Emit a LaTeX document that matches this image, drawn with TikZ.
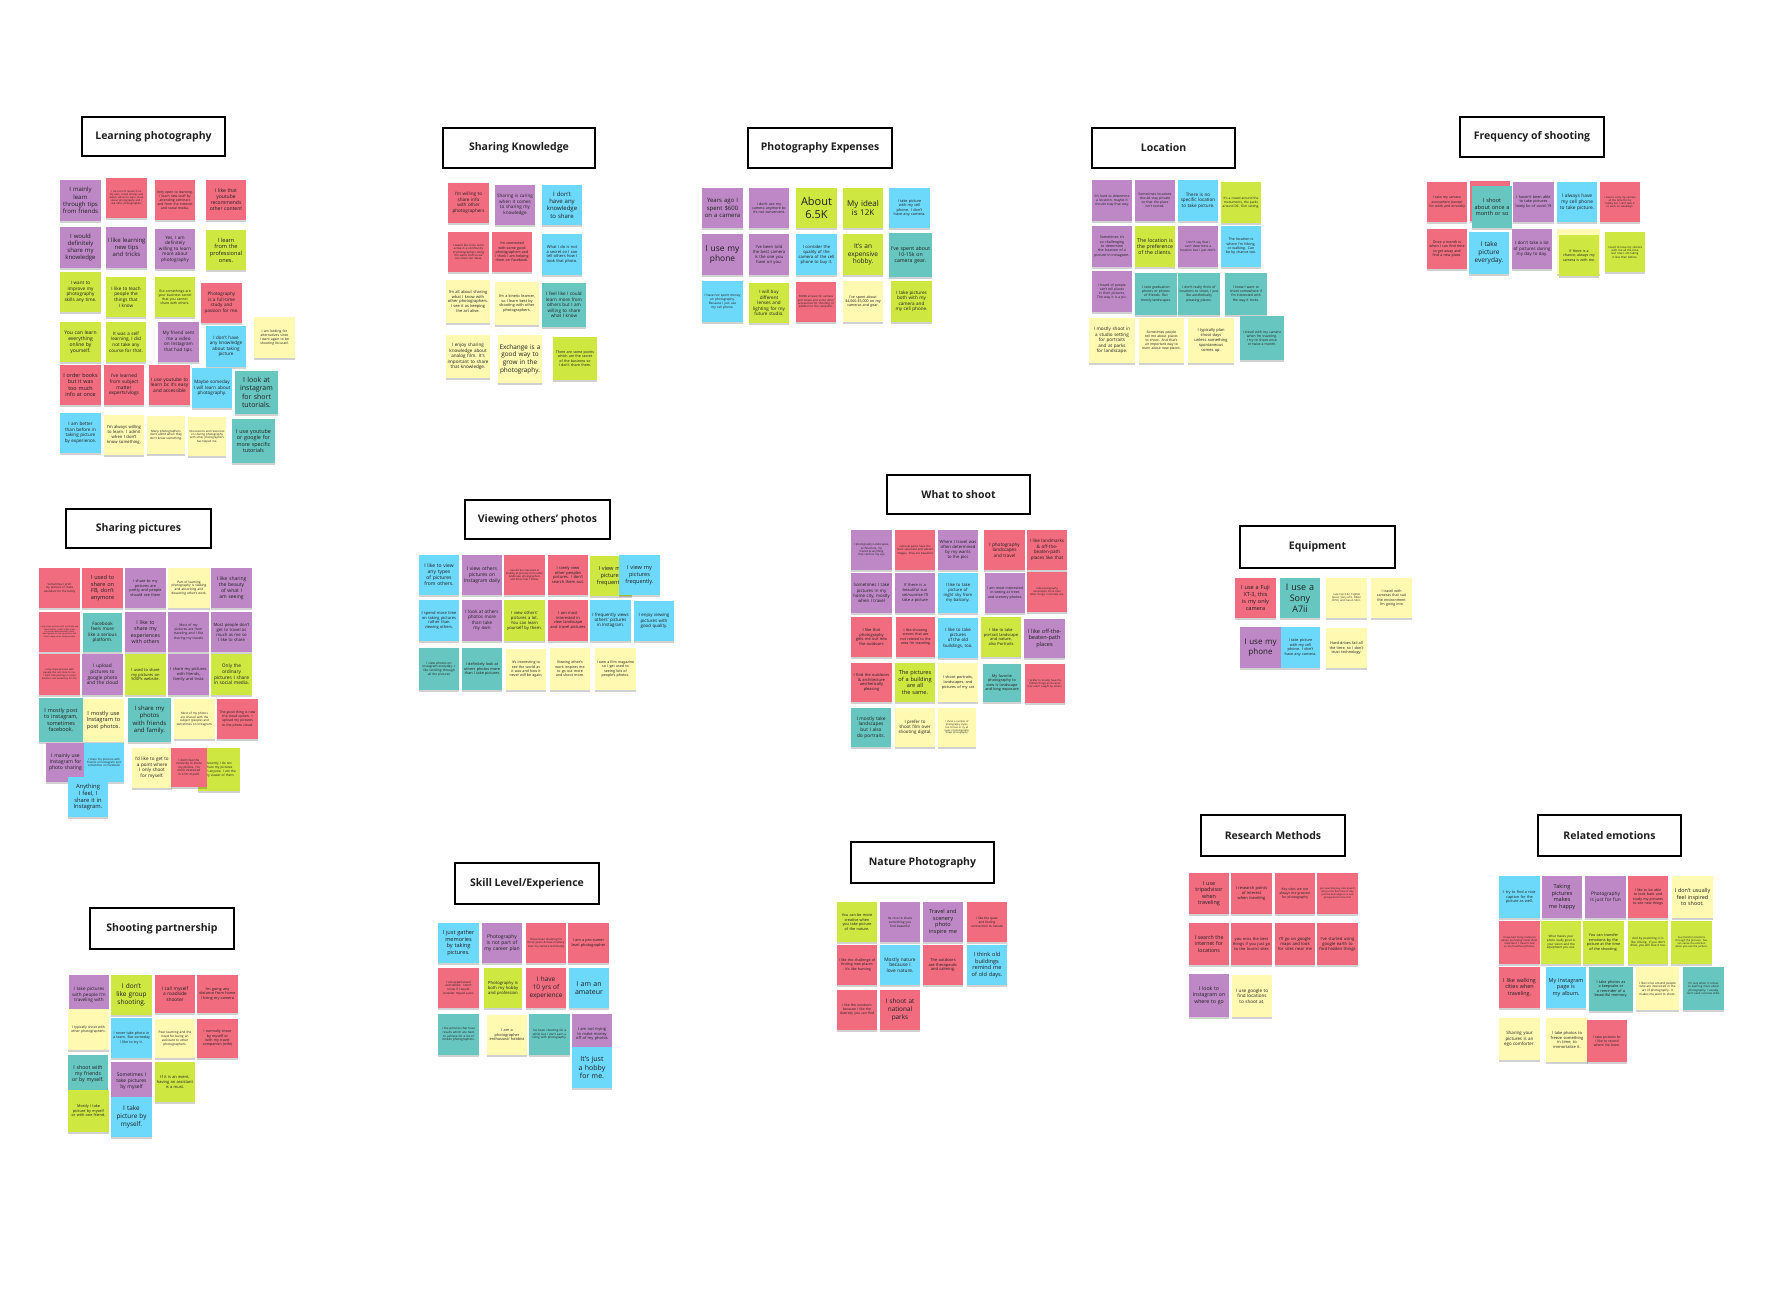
\documentclass[tikz,border=0pt]{standalone}
\usepackage{fontspec}
\setmainfont{Open Sans}
\usetikzlibrary{shadows}
\definecolor{pu}{HTML}{BE88C7}
\definecolor{rd}{HTML}{F16C7F}
\definecolor{ye}{HTML}{FFF9B1}
\definecolor{li}{HTML}{CEE741}
\definecolor{bl}{HTML}{6CD8FA}
\definecolor{te}{HTML}{67C6C0}
\definecolor{txt}{HTML}{1F1F1F}
\newcounter{snc}
\newcounter{hdc}
\newcommand\sn[7]{%
  \pgfmathsetmacro\snw{#3-#1}%
  \pgfmathsetmacro\snh{#4-#2}%
  \pgfmathsetmacro\snt{#3-#1-3}%
  \stepcounter{snc}%
  \node[snote, fill=#5, minimum width=\snw pt, minimum height=\snh pt, text width=\snt pt,
        font=\fontsize{#6}{\fpeval{1.2*#6}}\selectfont] (sn\arabic{snc}) at ({(#1+#3)/2},{(#2+#4)/2}) {#7};}
\newcommand\hd[5]{%
  \pgfmathsetmacro\snw{#3-#1}%
  \pgfmathsetmacro\snh{#4-#2}%
  \stepcounter{hdc}%
  \node[header, minimum width=\snw pt, minimum height=\snh pt] (hd\arabic{hdc}) at ({(#1+#3)/2},{(#2+#4)/2}) {#5};}
\tikzset{
  snote/.style={rectangle, inner sep=0pt, align=center, text=txt,
     drop shadow={opacity=0.18, shadow xshift=0.4pt, shadow yshift=-2.2pt, fill=black}},
  header/.style={rectangle, draw=black, line width=1.8pt, fill=white, inner sep=0pt,
     font=\bfseries\fontsize{10.5}{12}\selectfont, text=txt}
}
\begin{document}
\hyphenpenalty=10000 \exhyphenpenalty=50
\begin{tikzpicture}[x=1pt,y=-1pt]
\fill[white] (0,0) rectangle (1780,1299);
\useasboundingbox (0,0) rectangle (1780,1299);

% ---------- Headers ----------
\hd{82}{117}{225}{156}{Learning photography}
\hd{443}{128}{595}{168}{Sharing Knowledge}
\hd{748}{128}{892}{168}{Photography Expenses}
\hd{1092}{128}{1235}{168}{Location}
\hd{1460}{117}{1604}{157}{Frequency of shooting}
\hd{66}{509}{211}{548}{Sharing pictures}
\hd{465}{500}{610}{539}{Viewing others' photos}
\hd{887}{475}{1030}{514}{What to shoot}
\hd{1240}{526}{1395}{568}{Equipment}
\hd{90}{908}{234}{949}{Shooting partnership}
\hd{455}{863}{599}{904}{Skill Level/Experience}
\hd{851}{842}{994}{883}{Nature Photography}
\hd{1201}{815}{1345}{856}{Research Methods}
\hd{1538}{815}{1681}{856}{Related emotions}

% ---------- Learning photography ----------
\sn{60}{180}{101}{221}{pu}{6}{I mainly learn through tips from friends}
\sn{106}{178}{147}{218}{rd}{2.6}{I do a lot of research on my own, I read articles and watch videos to learn more about photography and I ask other photographers}
\sn{155}{180}{195}{220}{rd}{3.4}{Very open to learning. I learn new stuff by attending seminars and from the internet and social media.}
\sn{206}{180}{246}{220}{rd}{5}{I like that youtube recommends other content}
\sn{60}{227}{101}{268}{pu}{6}{I would definitely share my knowledge}
\sn{106}{227}{147}{268}{pu}{6}{I like learning new tips and tricks}
\sn{155}{229}{195}{269}{pu}{4.6}{Yes, I am definitely willing to learn more about photography}
\sn{206}{230}{246}{270}{li}{5.6}{I learn from the professional ones.}
\sn{60}{272}{101}{312}{li}{4.6}{I want to improve my photography skills any time.}
\sn{106}{277}{146}{317}{li}{4.6}{I like to teach people the things that I know}
\sn{155}{277}{195}{317}{li}{3.4}{But somethings are your business secret that you cannot share with others.}
\sn{201}{283}{242}{323}{rd}{4.6}{Photography is a full-time study and passion for me.}
\sn{254}{317}{295}{358}{ye}{3.4}{I am looking for alternatives since I want again to be shooting focused.}
\sn{60}{322}{101}{362}{li}{5}{You can learn everything online by yourself.}
\sn{106}{322}{146}{362}{li}{4.6}{It was a self learning, I did not take any course for that.}
\sn{158}{322}{199}{362}{pu}{4.6}{My friend sent me a video on Instagram that had tips.}
\sn{206}{326}{246}{367}{bl}{4.6}{I don't have any knowledge about taking picture}
\sn{60}{365}{101}{405}{rd}{5.4}{I order books but it was too much info at once}
\sn{104}{365}{144}{405}{rd}{4.8}{I've learned from subject matter experts/vlogs}
\sn{149}{365}{190}{405}{rd}{4.8}{I use youtube to learn bc it's easy and accessible}
\sn{192}{368}{232}{408}{bl}{4.6}{Maybe someday I will learn about photography.}
\sn{235}{371}{278}{414}{te}{7}{I look at instagram for short tutorials.}
\sn{60}{413}{101}{453}{bl}{4.6}{I am better than before in taking picture by experience.}
\sn{104}{415}{144}{455}{ye}{4.2}{I'm always willing to learn. I admit when I don't know something.}
\sn{147}{416}{185}{454}{ye}{3}{Many photographers don't admit when they don't know something.}
\sn{188}{417}{226}{456}{ye}{2.8}{Discussions and resources on sharing photography with other photographers has helped me.}
\sn{232}{419}{275}{463}{te}{5.4}{I use youtube or google for more specific tutorials}

% ---------- Sharing Knowledge ----------
\sn{448}{183}{489}{223}{rd}{4.6}{I'm willing to share info with other photographers}
\sn{495}{185}{535}{225}{pu}{4.6}{Sharing is caring when it comes to sharing my knowledge}
\sn{542}{185}{582}{225}{bl}{6}{I don't have any knowledge to share}
\sn{448}{232}{489}{272}{rd}{2.8}{I would like to be more active in a community of photographers doing the same stuff so we can share our ideas.}
\sn{492}{232}{532}{272}{rd}{3.6}{I'm connected with some good photographers and I think I am helping them on Facebook.}
\sn{542}{234}{582}{275}{bl}{4}{What I do is not a secret so I can tell others how I took that photo.}
\sn{446}{280}{490}{323}{ye}{4}{I'm all about sharing what I know with other photographers. I see it as keeping the art alive.}
\sn{495}{282}{539}{325}{ye}{3.8}{I'm a kinetic learner, so I learn best by shooting with other photographers.}
\sn{542}{283}{586}{327}{te}{4.6}{I feel like I could learn more from others but I am willing to share what I know}
\sn{446}{335}{490}{378}{ye}{4.6}{I enjoy sharing knowledge about analog film. It's important to share that knowledge.}
\sn{498}{335}{542}{383}{ye}{6.4}{Exchange is a good way to grow in the photography.}
\sn{553}{337}{597}{380}{li}{3.6}{There are some points which are the secret of the business so I don't share them.}

% ---------- Photography Expenses ----------
\sn{702}{188}{743}{228}{pu}{6}{Years ago I spent \$600 on a camera}
\sn{749}{188}{789}{228}{pu}{3.6}{I don't use my camera anymore bc it's not convenient.}
\sn{796}{188}{837}{228}{li}{11}{About 6.5K}
\sn{843}{188}{883}{228}{li}{8}{My ideal is 12K}
\sn{889}{188}{930}{228}{bl}{3.8}{I take picture with my cell phone. I don't have any camera.}
\sn{702}{234}{743}{275}{pu}{8.4}{I use my phone}
\sn{749}{234}{789}{275}{pu}{4.2}{I've been told the best camera is the one you have on you.}
\sn{796}{234}{837}{275}{bl}{4.2}{I consider the quality of the camera of the cell phone to buy it.}
\sn{843}{234}{883}{275}{li}{6.5}{It's an expensive hobby.}
\sn{889}{233}{932}{277}{te}{5.2}{I've spent about 10-15k on camera gear.}
\sn{702}{281}{743}{322}{bl}{3.2}{I have not spent money on photography. Because I just use my cell phone.}
\sn{749}{283}{789}{323}{li}{4.6}{I will buy different lenses and lighting for my future studio.}
\sn{796}{282}{836}{322}{rd}{2.8}{\$5000 at least for camera and lenses and some other accessories for shooting, in addition to the computer.}
\sn{843}{281}{883}{322}{ye}{3.6}{I've spent about \$4,000-\$5,000 on my cameras and gear.}
\sn{891}{281}{932}{322}{li}{4.6}{I take pictures both with my camera and my cell phone.}

% ---------- Location ----------
\sn{1092}{180}{1132}{221}{pu}{3.4}{It's hard to determine a location, maybe it should stay that way.}
\sn{1135}{180}{1175}{221}{pu}{3.4}{Sometimes locations should stay private so that the place isn't ruined.}
\sn{1178}{180}{1218}{221}{bl}{4.6}{There is no specific location to take picture.}
\sn{1221}{182}{1261}{223}{li}{3.2}{It's a crowd around the monuments, the parks around DC. Slim setting.}
\sn{1092}{226}{1132}{267}{pu}{3.6}{Sometimes it's so challenging to determine the location of a picture in instagram.}
\sn{1135}{226}{1175}{267}{li}{5.2}{The location is the preference of the clients.}
\sn{1178}{226}{1218}{267}{pu}{3.2}{I don't say that I can't determine a location but I just don't.}
\sn{1221}{226}{1261}{267}{bl}{3.6}{The location is where I'm hiking, or walking. Can be by chance too.}
\sn{1092}{271}{1132}{312}{pu}{3.4}{I heard of people can't tell places in their pictures. The way it is a pic.}
\sn{1135}{273}{1177}{315}{te}{3.4}{I take graduation photos or photos of friends. But mostly landscapes.}
\sn{1178}{273}{1220}{315}{te}{3.4}{I don't really think of locations to shoot, I just like aesthetically pleasing places.}
\sn{1225}{273}{1267}{315}{te}{3.4}{I know I want to shoot somewhere if I'm interested with the way it looks.}
\sn{1089}{318}{1135}{363}{ye}{4.6}{I mostly shoot in a studio setting for portraits and at parks for landscape.}
\sn{1139}{318}{1184}{363}{ye}{3.4}{Sometimes people tell me about places to shoot. And that's an important way to learn about new places.}
\sn{1188}{318}{1234}{363}{ye}{4}{I typically plan shoot days unless something spontaneous comes up.}
\sn{1240}{316}{1284}{360}{te}{3.4}{I travel with my camera when I'm traveling. I try to shoot once or twice a month.}

% ---------- Frequency of shooting ----------
\sn{1427}{182}{1467}{222}{rd}{3.4}{I take my camera everywhere (except for work and errands)}
\sn{1470}{181}{1510}{221}{rd}{3}{}
\sn{1472}{186}{1512}{228}{te}{5.6}{I shoot about once a month or so}
\sn{1513}{182}{1554}{222}{pu}{3.8}{I haven't been able to take pictures lately bc of covid-19}
\sn{1557}{182}{1597}{222}{bl}{4.8}{I always have my cell phone to take picture.}
\sn{1600}{182}{1640}{222}{rd}{2.6}{I love to carry my camera all the time for my hobby but I can't take it to work on weekdays.}
\sn{1427}{229}{1467}{269}{rd}{3.6}{Once a month is when I can find time to get away and find a new place.}
\sn{1469}{232}{1509}{274}{bl}{6.5}{I take picture everyday.}
\sn{1512}{229}{1552}{269}{pu}{4.4}{I don't take a lot of pictures during my day to day.}
\sn{1557}{229}{1600}{274}{ye}{3}{}
\sn{1559}{235}{1599}{276}{li}{3.6}{If there is a chance, always my camera is with me.}
\sn{1605}{232}{1645}{272}{li}{2.8}{I used to have my camera with me all the time but now I am taking it less than before.}

% ---------- Sharing pictures ----------
\sn{39}{568}{80}{608}{rd}{2.8}{Sometimes I print my pictures or make calendars for the family}
\sn{82}{568}{123}{608}{rd}{5.6}{I used to share on FB, don't anymore}
\sn{125}{568}{166}{608}{pu}{3.8}{I share bc my pictures are pretty and people should see them}
\sn{168}{568}{210}{608}{ye}{3.2}{Part of learning photography is viewing and absorbing and dissecting other's work.}
\sn{211}{568}{252}{608}{pu}{5}{I like sharing the beauty of what I am seeing}
\sn{39}{612}{80}{652}{rd}{2}{I only share pictures with my family and close friends, I don't really share on social media because I don't want people to use my photos and I like to keep some things private.}
\sn{83}{613}{122}{652}{te}{4.6}{Facebook feels more like a serious platform.}
\sn{125}{612}{166}{652}{pu}{5.2}{I like to share my experiences with others}
\sn{168}{612}{209}{652}{pu}{3.4}{Most of my pictures are from traveling and I like sharing my travels}
\sn{211}{612}{252}{652}{pu}{4.2}{Most people don't get to travel as much as me so I like to share}
\sn{39}{654}{80}{695}{rd}{2.4}{I only share pictures with people that are close to me. I think that posting on social media is not necessary for me.}
\sn{82}{654}{123}{695}{pu}{4.8}{I upload pictures to google photo and the cloud}
\sn{125}{654}{166}{695}{li}{4}{I used to share my pictures on 500Px website.}
\sn{168}{654}{209}{695}{pu}{4}{I share my pictures with friends, family and Insta}
\sn{211}{654}{252}{695}{li}{4.8}{Only the ordinary pictures I share in social media.}
\sn{39}{698}{83}{742}{te}{5.4}{I mostly post to instagram, sometimes facebook.}
\sn{83}{699}{124}{742}{ye}{5.6}{I mostly use Instagram to post photos.}
\sn{128}{698}{171}{742}{te}{6}{I share my photos with friends and family.}
\sn{174}{699}{215}{739}{ye}{3}{Most of my photos are shared with the subject (people) and sometimes on Instagram.}
\sn{217}{699}{258}{739}{rd}{3.4}{The good thing is now the cloud option. I upload my pictures to the photo cloud.}
\sn{46}{743}{85}{782}{pu}{5}{I mainly use Instagram for photo sharing}
\sn{84}{743}{124}{782}{bl}{2.8}{I share my pictures with friends on Instagram and sometimes on Facebook}
\sn{68}{777}{108}{817}{bl}{5.8}{Anything I feel, I share it in Instagram.}
\sn{132}{748}{172}{788}{ye}{4.6}{I'd like to get to a point where I only shoot for myself.}
\sn{198}{748}{240}{791}{li}{3.2}{Recently I do not share my pictures with anyone. I am the only viewer of them.}
\sn{171}{748}{207}{787}{rd}{3}{I don't feel the necessity to share my photos. I'm more interested in it for myself.}

% ---------- Viewing others' photos ----------
\sn{419}{555}{459}{595}{bl}{5}{I like to view any types of pictures from others.}
\sn{462}{555}{502}{595}{pu}{5}{I view others pictures on Instagram daily}
\sn{504}{555}{545}{595}{rd}{2.6}{I would be interested in looking at pictures from other landscape photographers and those that I follow.}
\sn{548}{555}{588}{595}{rd}{4}{I rarely view other peoples pictures. I don't search them out.}
\sn{590}{556}{632}{596}{li}{5.6}{I view my pictures frequently.}
\sn{619}{555}{660}{595}{bl}{5.6}{I view my pictures frequently.}
\sn{419}{600}{459}{641}{bl}{4}{I spend more time on taking pictures rather than viewing others.}
\sn{462}{600}{502}{641}{pu}{4.6}{I look at others photos more than take my own}
\sn{504}{600}{545}{641}{li}{4.2}{I view others' pictures a lot. You can learn yourself by them.}
\sn{548}{600}{588}{641}{rd}{4}{I am most interested in view landscape and travel pictures}
\sn{590}{600}{631}{641}{bl}{4.4}{I frequently views others' pictures in Instagram.}
\sn{634}{601}{674}{641}{bl}{4.4}{I enjoy viewing pictures with good quality.}
\sn{419}{648}{459}{690}{te}{3.2}{I view photos on instagram everyday. I like scrolling through all the pictures}
\sn{462}{648}{502}{690}{te}{3.8}{I definitely look at others photos more than I take pictures}
\sn{506}{649}{546}{690}{ye}{3.6}{It's interesting to see the world as it was and how it never will be again.}
\sn{550}{648}{590}{690}{ye}{3.6}{Viewing other's work inspires me to go out more and shoot more.}
\sn{595}{648}{636}{690}{ye}{3.6}{I own a film magazine so I get used to seeing lots of people's photos.}

% ---------- What to shoot ----------
\sn{851}{530}{892}{570}{pu}{2.8}{I photography landscapes, architecture, my travels \& anything that catches my eye}
\sn{895}{530}{935}{570}{rd}{2.8}{national parks have the most saturated and vibrant images. They are beautiful}
\sn{938}{530}{978}{570}{pu}{4.2}{Where I travel was often determined by my wants to the pics}
\sn{984}{530}{1025}{570}{rd}{4.6}{I photography landscapes and travel}
\sn{1027}{530}{1067}{570}{rd}{4.6}{I like landmarks \& off-the-beaten-path places like that}
\sn{851}{573}{892}{613}{pu}{4.4}{Sometimes I take pictures in my home city, mostly when I travel}
\sn{895}{573}{935}{613}{pu}{4}{If there is a beautiful sun set/sunrise I'll take a picture}
\sn{938}{573}{978}{613}{bl}{4.2}{I like to take picture of night sky from my balcony.}
\sn{985}{573}{1025}{613}{pu}{3.6}{I am most interested in seeing at trees and scenery photos.}
\sn{1027}{572}{1067}{612}{rd}{2.6}{I like photography landscapes more than other things I normally see.}
\sn{851}{617}{892}{657}{rd}{4}{I like that photography gets me out into the outdoors}
\sn{896}{617}{935}{657}{rd}{3.6}{I like shooting scenes that are not related to the area I'm traveling}
\sn{938}{618}{978}{658}{bl}{4.4}{I like to take pictures of the old buildings, too.}
\sn{981}{617}{1021}{657}{li}{4}{I like to take portrait landscape and nature, also Portraits}
\sn{1024}{619}{1065}{658}{pu}{5.6}{I like off-the-beaten-path places}
\sn{851}{663}{892}{702}{rd}{4}{I find the outdoors \& architecture aesthetically pleasing}
\sn{895}{663}{935}{702}{li}{5.6}{The pictures of a building are all the same.}
\sn{938}{663}{978}{702}{ye}{3.8}{I shoot portraits, landscapes, and pictures of my cat}
\sn{983}{664}{1021}{702}{te}{3.8}{My favorite photography to view is landscape and long exposure}
\sn{1025}{664}{1065}{703}{rd}{2.6}{I prefer to mostly have the hidden things and scenes that aren't caught by others.}
\sn{851}{708}{891}{747}{te}{4.8}{I mostly take landscapes but I also do portraits.}
\sn{895}{708}{935}{747}{ye}{4.4}{I prefer to shoot film over shooting digital.}
\sn{938}{708}{976}{747}{ye}{2.4}{I shoot a number of photography styles, but I'd love to try all types of photography, street photography.}

% ---------- Equipment ----------
\sn{1235}{578}{1276}{618}{rd}{5.6}{I use a Fuji XT-3, this is my only camera}
\sn{1280}{578}{1320}{618}{te}{9}{I use a Sony A7ii}
\sn{1326}{578}{1367}{618}{ye}{2.6}{I use Fuji X-E2, Fujifilm Xpro2, Sony a7iii, Nikon D700, and Canon 5D II.}
\sn{1371}{578}{1412}{618}{ye}{3.6}{I travel with cameras that suit the environment I'm going into}
\sn{1240}{627}{1281}{668}{pu}{8}{I use my phone}
\sn{1281}{627}{1320}{668}{bl}{3.8}{I take picture with my cell phone. I don't have any camera.}
\sn{1326}{628}{1367}{668}{ye}{3.8}{Hard-drives fail all the time, so I don't trust technology.}

% ---------- Shooting partnership ----------
\sn{69}{975}{109}{1015}{pu}{4.6}{I take pictures with people I'm traveling with}
\sn{68}{1009}{109}{1050}{ye}{3.4}{I typically shoot with other photographers.}
\sn{111}{975}{152}{1015}{li}{6.5}{I don't like group shooting.}
\sn{155}{975}{195}{1013}{rd}{4.8}{I call myself a roadside shooter}
\sn{197}{975}{238}{1013}{rd}{3.8}{I'm going any distance from home I bring my camera}
\sn{111}{1018}{152}{1058}{bl}{3.6}{I never take photo in a team. But someday I like to try it.}
\sn{155}{1019}{195}{1058}{ye}{3.2}{Peer learning and the need for being an assistant to other photographers.}
\sn{197}{1019}{238}{1058}{rd}{3.6}{I normally shoot by myself or with my travel companion (wife)}
\sn{68}{1055}{108}{1093}{te}{5.2}{I shoot with my friends or by myself.}
\sn{68}{1090}{109}{1132}{li}{3.8}{Mostly I take picture by myself or with one friend.}
\sn{111}{1062}{152}{1100}{pu}{5}{Sometimes I take pictures by myself}
\sn{111}{1097}{152}{1137}{bl}{6.4}{I take picture by myself.}
\sn{155}{1062}{195}{1102}{li}{4}{If it is an event, having an assistant is a must.}

% ---------- Skill Level/Experience ----------
\sn{438}{923}{479}{963}{bl}{5.6}{I just gather memories by taking pictures.}
\sn{482}{923}{522}{963}{pu}{5}{Photography is not part of my career plan}
\sn{526}{923}{566}{963}{rd}{2.8}{I have been shooting for three years \& have mastery over my camera technically}
\sn{568}{923}{609}{963}{rd}{3.8}{I am a pro-sumer level photographer}
\sn{438}{968}{479}{1008}{rd}{3}{I am experienced and skilled. I don't know if I would consider myself a pro.}
\sn{484}{968}{522}{1008}{li}{4.2}{Photography is both my hobby and profession}
\sn{526}{968}{566}{1008}{rd}{6.4}{I have 10 yrs of experience}
\sn{569}{968}{609}{1008}{bl}{7}{I am an amateur}
\sn{438}{1014}{479}{1055}{te}{3}{I like pictures that have results which are hard to achieve for a lot of mobile photographers.}
\sn{487}{1015}{527}{1055}{ye}{3.8}{I am a photographer enthusiast/ hobbist}
\sn{529}{1014}{570}{1055}{te}{3}{I've been shooting for a while but I don't earn a living with photography.}
\sn{572}{1014}{612}{1054}{pu}{4}{I am not trying to make money off of my photos}
\sn{572}{1047}{612}{1088}{bl}{7}{It's just a hobby for me.}

% ---------- Nature Photography ----------
\sn{837}{902}{877}{942}{li}{3.8}{You can be more creative when you take picture of the nature.}
\sn{880}{902}{920}{942}{pu}{3.2}{Its nice to share something you find beautiful}
\sn{923}{902}{963}{942}{pu}{5.6}{Travel and scenery photo inspire me}
\sn{967}{902}{1007}{942}{rd}{3.2}{I like the quiet and feeling connection to nature}
\sn{837}{945}{877}{985}{rd}{3.6}{I like the challenge of finding new places - it's like hunting}
\sn{880}{945}{920}{985}{bl}{4.8}{Mostly nature because I love nature.}
\sn{923}{945}{963}{985}{rd}{4}{The outdoors are therapeutic and calming.}
\sn{967}{945}{1007}{985}{bl}{5.6}{I think old buildings remind me of old days.}
\sn{837}{990}{877}{1030}{rd}{3.4}{I like the outdoors because I like the diversity you can find}
\sn{880}{990}{920}{1030}{rd}{6.4}{I shoot at national parks}

% ---------- Research Methods ----------
\sn{1189}{873}{1229}{914}{rd}{5.4}{I use tripadvisor when traveling}
\sn{1231}{873}{1272}{914}{rd}{4}{I research points of interest when traveling}
\sn{1275}{873}{1315}{914}{rd}{3.4}{Key sites are not always the greatest for photography}
\sn{1317}{873}{1358}{914}{rd}{2.4}{Just searching key sites doesn't tell you the best time of day, just the best angle or a new perspective for the shot}
\sn{1189}{923}{1229}{965}{rd}{5.2}{I search the internet for locations}
\sn{1231}{923}{1272}{965}{rd}{4}{you miss the best things if you just go to the tourist sites}
\sn{1275}{923}{1315}{965}{rd}{4.2}{I'll go on google maps and look for sites near me}
\sn{1317}{923}{1358}{965}{rd}{4.2}{I've started using google earth to find hidden things}
\sn{1189}{974}{1229}{1017}{pu}{5.2}{I look to Instagram on where to go}
\sn{1232}{975}{1272}{1017}{ye}{4.6}{I use google to find locations to shoot at.}

% ---------- Related emotions ----------
\sn{1499}{876}{1540}{918}{bl}{3.8}{I try to find a nice caption for the picture as well.}
\sn{1542}{876}{1582}{918}{pu}{5.6}{Taking pictures makes me happy}
\sn{1585}{876}{1626}{918}{pu}{4.8}{Photography is just for fun}
\sn{1628}{876}{1668}{918}{rd}{3.6}{I like to be able to look back and study my pictures to see new things}
\sn{1672}{876}{1713}{918}{ye}{5.4}{I don't usually feel inspired to shoot.}
\sn{1499}{921}{1540}{964}{rd}{2.6}{I have had many instances where journaling made them important. I haven't had as much without photos.}
\sn{1541}{921}{1581}{964}{li}{3}{What makes your photo really good is your vision and the equipment you use.}
\sn{1583}{921}{1624}{964}{li}{3.8}{You can transfer emotions by the picture at the time of the shooting.}
\sn{1628}{921}{1668}{964}{li}{3}{And by practicing, it is like driving. If you don't drive, you will lose it too.}
\sn{1671}{921}{1712}{964}{li}{2.6}{You transfer emotions through the pictures. You can sense the emotion when you see the picture.}
\sn{1499}{967}{1540}{1008}{rd}{5.4}{I like walking cities when traveling.}
\sn{1546}{967}{1586}{1008}{bl}{5.4}{My Instagram page is my album.}
\sn{1589}{967}{1633}{1011}{te}{3.8}{I take photos as a keepsake or a reminder of a beautiful memory.}
\sn{1636}{967}{1679}{1010}{ye}{3}{I like to be around people who are interested in the art of photography. It makes me want to shoot.}
\sn{1683}{967}{1724}{1010}{te}{2.8}{I'm lazy when it comes to learning more about photography. I usually don't seek out new skills.}
\sn{1499}{1018}{1540}{1060}{ye}{4.4}{Sharing your pictures is an ego comforter.}
\sn{1546}{1018}{1588}{1062}{ye}{4}{I take photos to freeze something in time, to immortalize it.}
\sn{1587}{1020}{1627}{1062}{rd}{3.4}{I take pictures bc I like to record where I've been.}

\end{tikzpicture}
\end{document}
